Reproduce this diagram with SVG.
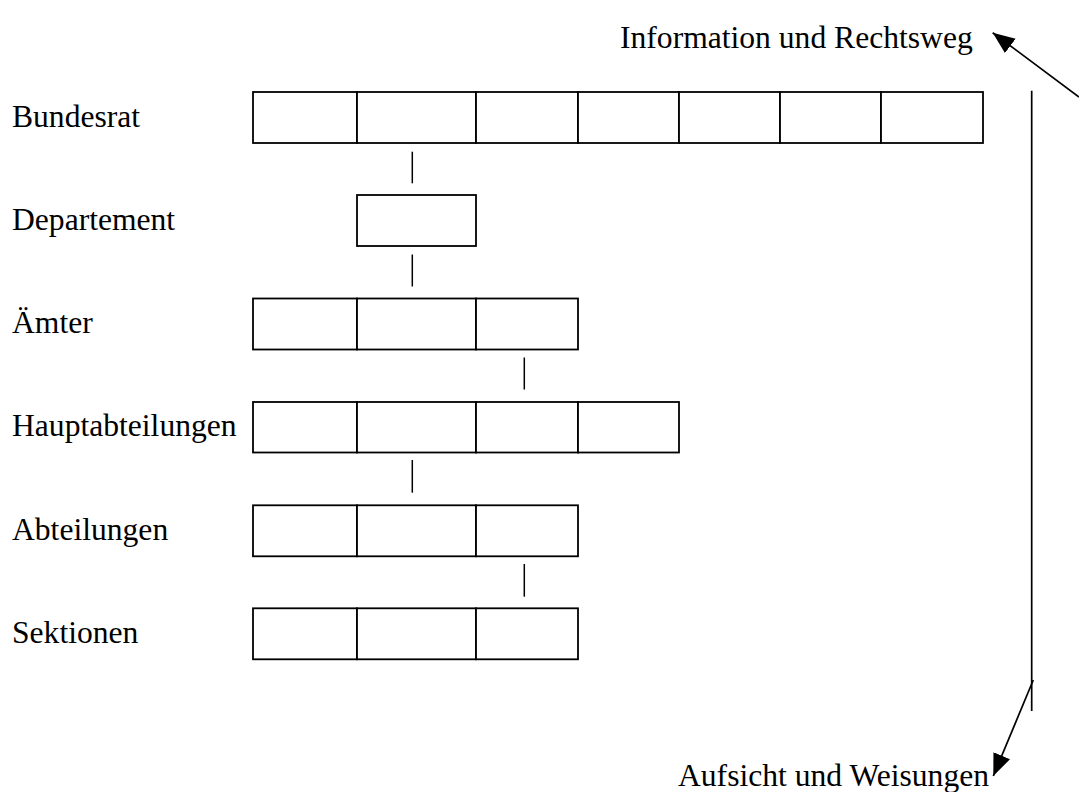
<svg xmlns="http://www.w3.org/2000/svg" width="1079" height="792" viewBox="0 0 1079 792">
<style>
text{font-family:"Liberation Serif","Times New Roman",serif;font-size:31.6px;fill:#000}
.c{fill:#fff;stroke:#000;stroke-width:1.8}
.l{stroke:#000;stroke-width:1.5;fill:none}
.a{stroke:#000;stroke-width:1.7;fill:none}
</style>
<defs>
<marker id="ah" viewBox="0 0 22 18" refX="22" refY="9" markerWidth="22" markerHeight="18" markerUnits="userSpaceOnUse" orient="auto"><path d="M0,0 L22,9 L0,18 z" fill="#000"/></marker>
</defs>
<rect width="1079" height="792" fill="#fff"/>
<g id="bundesrat">
<text x="12" y="127">Bundesrat</text>
<rect class="c" x="253" y="92" width="104" height="51"/>
<rect class="c" x="357" y="92" width="119" height="51"/>
<rect class="c" x="476" y="92" width="102" height="51"/>
<rect class="c" x="578" y="92" width="101" height="51"/>
<rect class="c" x="679" y="92" width="101" height="51"/>
<rect class="c" x="780" y="92" width="101" height="51"/>
<rect class="c" x="881" y="92" width="102" height="51"/>
</g>
<g id="departement">
<text x="12" y="230">Departement</text>
<rect class="c" x="357" y="195" width="119" height="51"/>
</g>
<g id="aemter">
<text x="12" y="333">Ämter</text>
<rect class="c" x="253" y="298.5" width="104" height="51"/>
<rect class="c" x="357" y="298.5" width="119" height="51"/>
<rect class="c" x="476" y="298.5" width="102" height="51"/>
</g>
<g id="hauptabteilungen">
<text x="12" y="436">Hauptabteilungen</text>
<rect class="c" x="253" y="402" width="104" height="50.5"/>
<rect class="c" x="357" y="402" width="119" height="50.5"/>
<rect class="c" x="476" y="402" width="102" height="50.5"/>
<rect class="c" x="578" y="402" width="101" height="50.5"/>
</g>
<g id="abteilungen">
<text x="12" y="540">Abteilungen</text>
<rect class="c" x="253" y="505.3" width="104" height="51"/>
<rect class="c" x="357" y="505.3" width="119" height="51"/>
<rect class="c" x="476" y="505.3" width="102" height="51"/>
</g>
<g id="sektionen">
<text x="12" y="643">Sektionen</text>
<rect class="c" x="253" y="608.3" width="104" height="51"/>
<rect class="c" x="357" y="608.3" width="119" height="51"/>
<rect class="c" x="476" y="608.3" width="102" height="51"/>
</g>
<g id="info">
<text x="620" y="48">Information und Rechtsweg</text>
</g>
<g id="aufsicht">
<text x="678" y="786">Aufsicht und Weisungen</text>
</g>
<g id="connectors">
<line class="l" x1="412.3" y1="151.7" x2="412.3" y2="183.3"/>
<line class="l" x1="412.3" y1="254.5" x2="412.3" y2="286.5"/>
<line class="l" x1="524.3" y1="357.5" x2="524.3" y2="389.5"/>
<line class="l" x1="412.3" y1="460" x2="412.3" y2="492.7"/>
<line class="l" x1="524.3" y1="564" x2="524.3" y2="596.7"/>
<line class="a" x1="1031.7" y1="90.7" x2="1031.7" y2="711"/>
<line class="a" x1="1079" y1="97" x2="992.7" y2="32.7" marker-end="url(#ah)"/>
<line class="a" x1="1033.3" y1="680" x2="993.3" y2="776" marker-end="url(#ah)"/>
</g>
</svg>
